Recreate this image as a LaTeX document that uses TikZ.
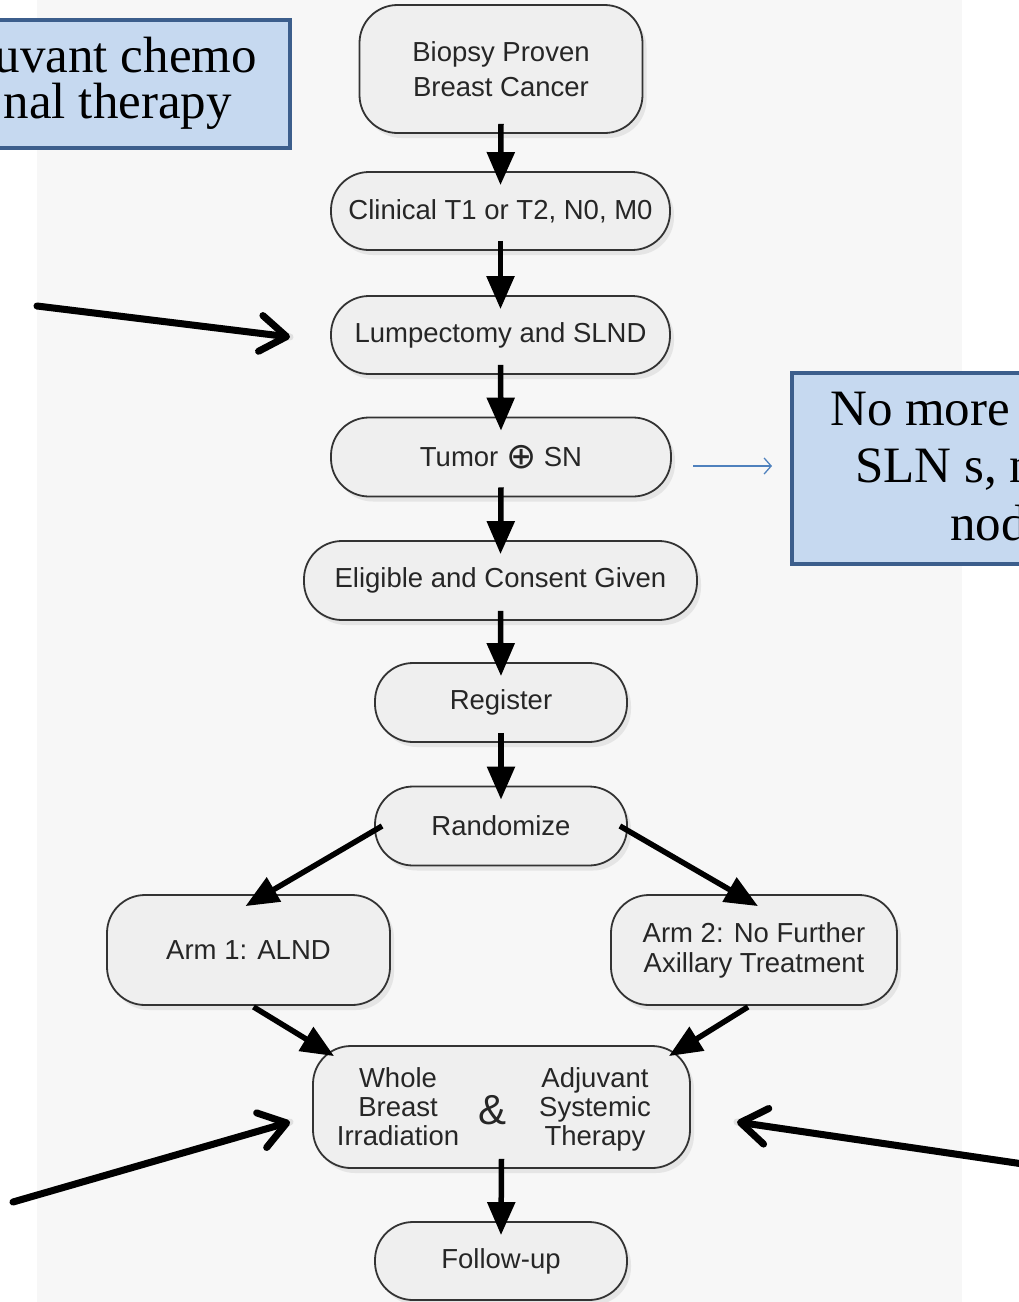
\documentclass[tikz,border=0pt]{standalone}
\usepackage{fontspec}
\setmainfont{Liberation Sans}
\newfontfamily\boxserif{Liberation Serif}
\newfontfamily\symfont{DejaVu Sans}
\usetikzlibrary{shadows,arrows.meta,calc}
\definecolor{panelgray}{HTML}{F7F7F7}
\definecolor{nodefill}{HTML}{EFEFEF}
\definecolor{nodeline}{HTML}{333333}
\definecolor{boxfill}{HTML}{C6D9F0}
\definecolor{boxline}{HTML}{3C5E8C}
\definecolor{linkblue}{HTML}{4F81BD}
\begin{document}
\begin{tikzpicture}[x=1pt,y=-1pt,
  flow/.style={draw=nodeline, line width=1.8pt, fill=nodefill, rounded corners=38pt,
    drop shadow={shadow xshift=4pt, shadow yshift=-5pt, opacity=0.15},
    inner sep=0pt, align=center, text=black!85, font=\fontsize{27.5}{35}\selectfont},
  flowtxt/.style={inner sep=0pt, align=center, text=black!85, font=\fontsize{27.5}{29}\selectfont},
  flowarrow/.style={line width=5.5pt, -{Triangle[length=33pt,width=27pt]}},
  notearrow/.style={line width=7pt, line cap=round, -{Straight Barb[length=26pt,width=36pt,round]}},
  bluebox/.style={draw=boxline, line width=4pt, fill=boxfill, inner sep=0pt},
  bluetxt/.style={inner sep=0pt, font=\boxserif\fontsize{51}{57}\selectfont},
]
\useasboundingbox (0,0) rectangle (1019,1302);
\fill[panelgray] (37,0) rectangle (962,1302);

% blue note boxes
\node[bluebox, anchor=north east, minimum width=330pt, minimum height=128pt] (lbox) at (292,18) {};
\node[bluetxt, anchor=base east] (lt1) at (257,72) {uvant chemo};
\node[bluetxt, anchor=base east] (lt2) at (232,118) {nal therapy};

\node[bluebox, anchor=north west, minimum width=260pt, minimum height=191pt] (rbox) at (790,371) {};
\node[bluetxt, anchor=base west] (rt1) at (830,425) {No more};
\node[bluetxt, anchor=base west] (rt2) at (855,482) {SLN s, n};
\node[bluetxt, anchor=base west] (rt3) at (950,540) {nod};

% flow nodes
\node[flow, minimum width=283pt, minimum height=128pt] (b1) at (501,69) {Biopsy Proven\\Breast Cancer};
\node[flow, minimum width=339pt, minimum height=78pt] (b2) at (500.5,211) {Clinical T1 or T2, N0, M0};
\node[flow, minimum width=339pt, minimum height=78pt] (b3) at (500.5,335) {Lumpectomy and SLND};
\node[flow, minimum width=340pt, minimum height=79pt] (b4) at (501,457) {Tumor \raisebox{-2pt}{\symfont\fontsize{36}{36}\selectfont ⊕} SN};
\node[flow, minimum width=393pt, minimum height=79pt] (b5) at (500.5,580.5) {Eligible and Consent Given};
\node[flow, minimum width=252pt, minimum height=79pt] (b6) at (501,702.5) {Register};
\node[flow, minimum width=252pt, minimum height=79pt] (b7) at (501,826) {Randomize};
\node[flow, minimum width=283pt, minimum height=110pt] (b8) at (248.5,950) {Arm 1: ALND};
\node[flow, minimum width=286pt, minimum height=110pt, font=\fontsize{27.5}{30}\selectfont] (b9) at (754,950) {Arm 2: No Further\\Axillary Treatment};
\node[flow, minimum width=377pt, minimum height=122pt] (b10) at (501.5,1107) {};
\node[flowtxt] (wbi) at (398,1107) {Whole\\Breast\\Irradiation};
\node[flowtxt, font=\fontsize{42}{42}\selectfont] (amp) at (493,1110) {\&};
\node[flowtxt] (ast) at (595,1109) {Adjuvant\\Systemic\\Therapy};
\node[flow, minimum width=252pt, minimum height=78pt] (b11) at (501,1261) {Follow-up};

% flow arrows
\foreach \u/\v in {b1/b2,b2/b3,b3/b4,b4/b5,b5/b6,b6/b7,b10/b11}
  \draw[flowarrow] ($(\u.south)+(0,-10)$) -- ($(\v.north)+(0,14)$);
\draw[flowarrow] ($(b7.west)+(8,0)$) -- ($(b8.north)+(-3,12)$);
\draw[flowarrow] ($(b7.east)+(-8,0)$) -- ($(b9.north)+(4,12)$);
\draw[flowarrow] ($(b8.south)+(5,1)$) -- ($(b10.north west)+(22,11)$);
\draw[flowarrow] ($(b9.south)+(-6,1)$) -- ($(b10.north east)+(-22,11)$);

% annotation arrows
\coordinate (a1s) at (37,306);  \coordinate (a1e) at (290,337);
\coordinate (a2s) at (13,1202); \coordinate (a2e) at (290,1122);
\coordinate (a3s) at (1030,1165); \coordinate (a3e) at (737,1122);
\coordinate (bs) at (693,466); \coordinate (be) at (772,466);
\foreach \s/\e in {a1s/a1e,a2s/a2e,a3s/a3e}{
  \draw[line width=7pt, line cap=round, black!12, shift={(2,5)}] (\s) -- (\e);
  \draw[notearrow] (\s) -- (\e);
}
\draw[linkblue, line width=1.3pt, -{Straight Barb[length=7pt,width=16pt]}] (bs) -- (be);
\end{tikzpicture}
\end{document}
